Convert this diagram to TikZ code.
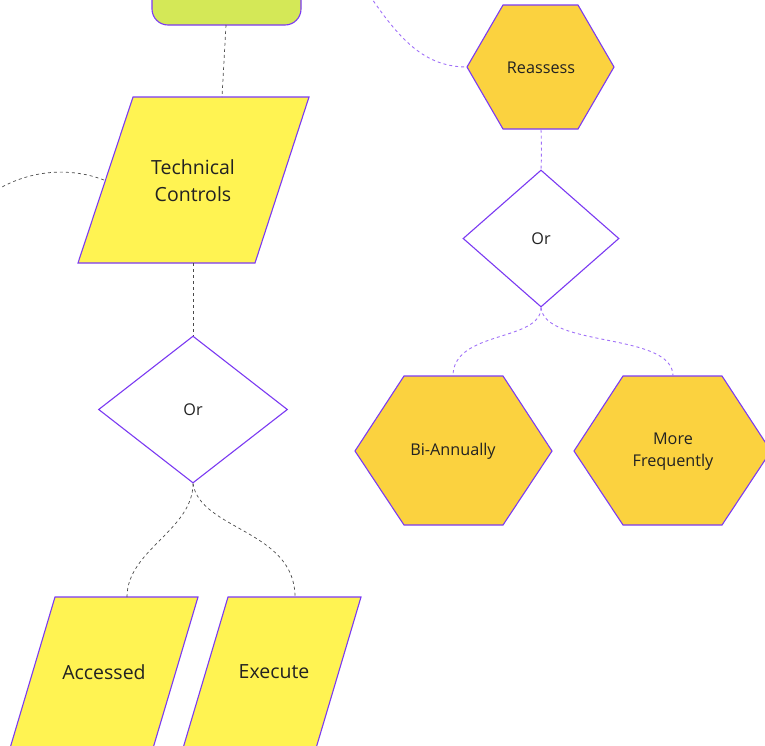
\documentclass[tikz,border=0pt]{standalone}
\usepackage{fontspec}
\setmainfont{Open Sans}
\usetikzlibrary{shapes.geometric}
\definecolor{outline}{HTML}{7B3AF2}
\definecolor{limefill}{HTML}{D4E857}
\definecolor{lemonfill}{HTML}{FFF352}
\definecolor{amberfill}{HTML}{FBD23F}
\definecolor{inkgrey}{HTML}{222222}
\definecolor{greywire}{HTML}{4A4A4A}
\definecolor{violetwire}{HTML}{A070F8}
\begin{document}
\begin{tikzpicture}[x=1pt,y=-1pt,
  shapeline/.style={draw=outline, line width=1.1pt, line join=miter},
  label/.style={text=inkgrey, align=center, inner sep=0pt},
  bigtext/.style={label, font=\fontsize{19.5}{27}\selectfont},
  smalltext/.style={label, font=\fontsize{16.2}{22}\selectfont},
  greylink/.style={draw=greywire, line width=0.7pt, dash pattern=on 3pt off 3pt},
  violetlink/.style={draw=violetwire, line width=0.9pt, dash pattern=on 3pt off 3pt},
  decision/.style={shape=diamond, shapeline, fill=white, inner sep=0pt,
    font=\fontsize{16.2}{20}\selectfont, text=inkgrey}
]
\useasboundingbox (0,0) rectangle (765,745);
\clip (0,0) rectangle (765,745);

% ---- left column ----
% start block (rounded)
\path[shapeline, fill=limefill, rounded corners=16pt] (152,-40) rectangle (301,25);
\coordinate (startbot) at (226,25);

% Technical Controls (parallelogram)
\path[shapeline, fill=lemonfill] (133,97) -- (309,97) -- (255,263) -- (78,263) -- cycle;
\node[bigtext] (tech) at (193,180.5) {Technical\\Controls};
\coordinate (techtop) at (222,97);
\coordinate (techbot) at (193,263);
\coordinate (techleft) at (104,180);
\coordinate (offleft) at (-12,196);

% decision
\node[decision, minimum width=189pt, minimum height=147pt] (orleft) at (193,409.5) {Or};

% Accessed / Execute
\path[shapeline, fill=lemonfill] (55,597) -- (198,597) -- (151,755) -- (8,755) -- cycle;
\node[bigtext] (accessed) at (104,672) {Accessed};
\coordinate (acctop) at (127,597);
\path[shapeline, fill=lemonfill] (228,597) -- (361,597) -- (314,755) -- (181,755) -- cycle;
\node[bigtext] (execute) at (274,672) {Execute};
\coordinate (exetop) at (295,597);

% ---- right column ----
\path[shapeline, fill=amberfill] (467,67) -- (503,5) -- (578,5) -- (614,67) -- (578,129) -- (503,129) -- cycle;
\node[smalltext] (reassess) at (541,68) {Reassess};
\coordinate (reassleft) at (467,67);
\coordinate (reassbot) at (541,129.6);
\coordinate (offtop) at (370,-4);

\node[decision, minimum width=156pt, minimum height=137pt] (orright) at (541,238.5) {Or};

\path[shapeline, fill=amberfill] (355,451) -- (404,376) -- (503,376) -- (552,451) -- (503,525) -- (404,525) -- cycle;
\node[smalltext] (biannual) at (453,451.5) {Bi-Annually};
\coordinate (bitop) at (453,376);

\path[shapeline, fill=amberfill] (574,451) -- (623,376) -- (722,376) -- (771,451) -- (722,525) -- (623,525) -- cycle;
\node[smalltext] (morefreq) at (673,451.5) {More\\Frequently};
\coordinate (mftop) at (673,376);

% ---- connectors ----
\draw[greylink] (startbot) -- (techtop);
\draw[greylink] (techleft) .. controls (65,165) and (20,172) .. (offleft);
\draw[greylink] (techbot) -- (orleft.north);
\draw[greylink] (orleft.south) .. controls (193,530) and (127,550) .. (acctop);
\draw[greylink] (orleft.south) .. controls (200,530) and (295,530) .. (exetop);

\draw[violetlink] (offtop) .. controls (400,40) and (425,67) .. (reassleft);
\draw[violetlink] (reassbot) .. controls (541.6,145) and (541.6,155) .. (orright.north);
\draw[violetlink] (orright.south) .. controls (541,342) and (453,330) .. (bitop);
\draw[violetlink] (orright.south) .. controls (545,348) and (673,332) .. (mftop);
\end{tikzpicture}
\end{document}
